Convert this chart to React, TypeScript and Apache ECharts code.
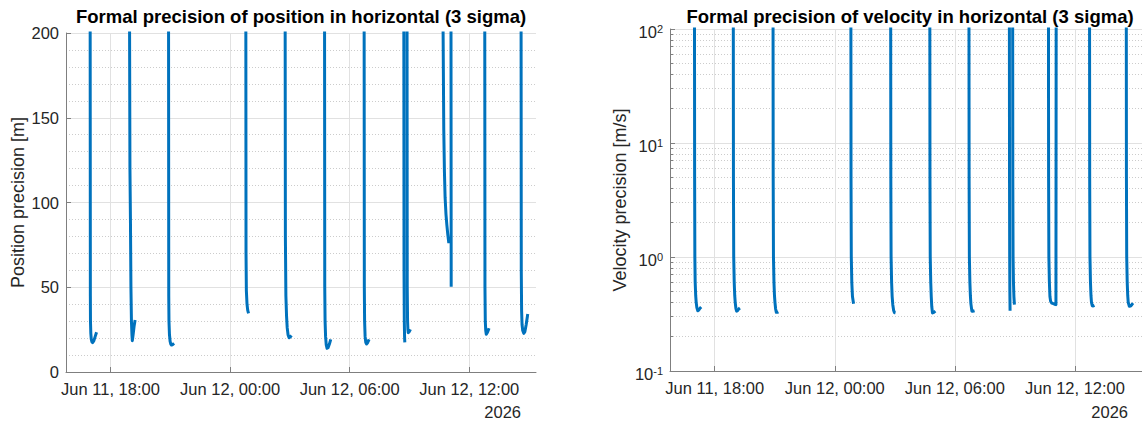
import React, { useEffect, useRef } from "react";
import * as echarts from "echarts";

// ---------- data ----------
const timeRange = ["06-11T15:46:00", "06-12T15:21:00"];
const timeTicks = ["06-11T18:00:00", "06-12T00:00:00", "06-12T06:00:00", "06-12T12:00:00"];
const yearLabel = "2026";
const positionTicks = [0, 50, 100, 150, 200];
const velocityTicks = [0.1, 1, 10, 100];

const positionTimes: string[] = [
  "06-11T16:58:40", "06-11T16:59:20", "06-11T16:59:40", "06-11T17:00:40", "06-11T17:02:00", "06-11T17:04:00", "06-11T17:06:00", "06-11T17:10:00", "06-11T17:14:00", "06-11T17:18:00", "06-11T17:40:00",
  "06-11T18:57:00", "06-11T18:58:30", "06-11T19:00:00", "06-11T19:01:30", "06-11T19:03:00", "06-11T19:04:30", "06-11T19:05:40", "06-11T19:08:00", "06-11T19:11:00", "06-11T19:14:00", "06-11T19:40:00",
  "06-11T20:54:40", "06-11T20:55:20", "06-11T20:56:00", "06-11T20:57:30", "06-11T20:59:30", "06-11T21:01:30", "06-11T21:03:40", "06-11T21:07:00", "06-11T21:11:30", "06-11T21:40:00",
  "06-12T00:47:20", "06-12T00:48:00", "06-12T00:49:00", "06-12T00:51:00", "06-12T00:53:00", "06-12T00:55:30", "06-12T01:20:00",
  "06-12T02:45:40", "06-12T02:46:30", "06-12T02:48:00", "06-12T02:50:00", "06-12T02:52:00", "06-12T02:54:30", "06-12T02:57:40", "06-12T03:01:00", "06-12T03:05:00", "06-12T03:30:00",
  "06-12T04:44:20", "06-12T04:45:00", "06-12T04:46:00", "06-12T04:47:30", "06-12T04:49:30", "06-12T04:52:00", "06-12T04:55:00", "06-12T04:59:00", "06-12T05:03:00", "06-12T05:30:00",
  "06-12T06:43:30", "06-12T06:44:10", "06-12T06:45:00", "06-12T06:46:30", "06-12T06:48:30", "06-12T06:50:40", "06-12T06:54:00", "06-12T06:58:30", "06-12T07:30:00",
  "06-12T08:43:00", "06-12T08:43:40", "06-12T08:44:30", "06-12T08:45:20", "06-12T08:46:00", "06-12T08:49:00",
  "06-12T08:52:40", "06-12T08:53:20", "06-12T08:54:20", "06-12T08:55:20", "06-12T08:56:20", "06-12T08:59:30", "06-12T09:03:00", "06-12T09:40:00",
  "06-12T10:40:30", "06-12T10:41:20", "06-12T10:43:20", "06-12T10:45:20", "06-12T10:47:20", "06-12T10:50:00", "06-12T10:52:30", "06-12T10:55:30", "06-12T10:58:30", "06-12T11:02:00",
  "06-12T11:05:00", "06-12T11:05:40", "06-12T11:40:00",
  "06-12T12:46:40", "06-12T12:47:20", "06-12T12:48:20", "06-12T12:49:40", "06-12T12:51:20", "06-12T12:55:00", "06-12T12:59:40", "06-12T13:30:00",
  "06-12T14:36:00", "06-12T14:36:40", "06-12T14:37:40", "06-12T14:39:00", "06-12T14:41:00", "06-12T14:44:10", "06-12T14:47:30", "06-12T14:51:30", "06-12T14:56:10",
];
const positionValues: (number | null)[] = [
  230, 45, 30, 23, 19.5, 17.8, 17.3, 18.5, 21, 23.4, null,
  230, 120, 90, 50, 30, 22, 18.5, 22, 27, 30.7, null,
  230, 45, 30, 22, 18, 16.5, 15.9, 16.2, 16.9, null,
  230, 70, 48, 40, 36.5, 34.6, null,
  230, 80, 45, 33, 26, 22, 20.2, 20.6, 21.5, null,
  230, 50, 30, 21, 16, 14, 14.3, 16.5, 19.3, null,
  230, 50, 30, 21, 17.5, 16.5, 17.3, 19.3, null,
  230, 60, 30, 21, 17.5, null,
  230, 50, 30, 25, 23.2, 23.8, 25.2, null,
  240, 200, 143, 118, 103, 93, 87, 81, 76, null,
  230, 50.3, null,
  230, 50, 30, 24.5, 22.3, 23.5, 25.8, null,
  230, 60, 36, 28, 24.5, 22.8, 23.8, 28, 34.2,
];

const velocityTimes: string[] = [
  "06-11T16:59:20", "06-11T16:59:50", "06-11T17:00:30", "06-11T17:01:30", "06-11T17:03:00", "06-11T17:04:30", "06-11T17:06:30", "06-11T17:09:20", "06-11T17:12:30", "06-11T17:16:00", "06-11T17:19:30", "06-11T17:40:00",
  "06-11T18:55:40", "06-11T18:56:10", "06-11T18:57:00", "06-11T18:58:30", "06-11T19:00:00", "06-11T19:01:30", "06-11T19:03:30", "06-11T19:05:40", "06-11T19:09:00", "06-11T19:12:00", "06-11T19:15:40", "06-11T19:40:00",
  "06-11T20:54:50", "06-11T20:55:20", "06-11T20:56:10", "06-11T20:57:40", "06-11T20:59:10", "06-11T21:00:40", "06-11T21:02:40", "06-11T21:04:50", "06-11T21:08:00", "06-11T21:10:50", "06-11T21:40:00",
  "06-12T00:48:10", "06-12T00:48:40", "06-12T00:49:30", "06-12T00:51:00", "06-12T00:53:00", "06-12T00:56:20", "06-12T01:20:00",
  "06-12T02:47:30", "06-12T02:48:00", "06-12T02:48:50", "06-12T02:50:20", "06-12T02:52:00", "06-12T02:54:00", "06-12T02:56:30", "06-12T02:59:00", "06-12T03:02:00", "06-12T03:30:00",
  "06-12T04:44:50", "06-12T04:45:20", "06-12T04:46:10", "06-12T04:47:40", "06-12T04:49:10", "06-12T04:50:40", "06-12T04:52:50", "06-12T04:57:00", "06-12T05:01:40", "06-12T05:30:00",
  "06-12T06:42:10", "06-12T06:42:40", "06-12T06:43:30", "06-12T06:45:00", "06-12T06:46:30", "06-12T06:48:00", "06-12T06:51:00", "06-12T06:55:00", "06-12T06:59:00", "06-12T07:30:00",
  "06-12T08:43:20", "06-12T08:43:50", "06-12T08:44:20", "06-12T08:44:50", "06-12T08:45:30", "06-12T08:49:00",
  "06-12T08:53:10", "06-12T08:53:40", "06-12T08:54:30", "06-12T08:55:40", "06-12T08:57:00", "06-12T08:58:30", "06-12T08:59:30", "06-12T09:40:00",
  "06-12T10:40:30", "06-12T10:41:00", "06-12T10:41:50", "06-12T10:43:20", "06-12T10:45:00", "06-12T10:47:00", "06-12T10:50:20", "06-12T10:55:00", "06-12T10:59:00", "06-12T11:03:00", "06-12T11:03:50", "06-12T11:40:00",
  "06-12T12:43:40", "06-12T12:44:10", "06-12T12:45:00", "06-12T12:46:30", "06-12T12:48:00", "06-12T12:49:30", "06-12T12:51:50", "06-12T12:55:00", "06-12T12:58:30", "06-12T13:30:00",
  "06-12T14:33:50", "06-12T14:34:20", "06-12T14:35:10", "06-12T14:36:40", "06-12T14:38:10", "06-12T14:39:40", "06-12T14:43:00", "06-12T14:47:00", "06-12T14:50:30", "06-12T14:54:00",
];
const velocityValues: (number | null)[] = [
  300, 5, 1.0, 0.6, 0.46, 0.4, 0.36, 0.338, 0.343, 0.355, 0.364, null,
  300, 5, 1.0, 0.6, 0.46, 0.4, 0.355, 0.335, 0.34, 0.35, 0.357, null,
  300, 5, 1.0, 0.6, 0.46, 0.4, 0.35, 0.327, 0.327, 0.33, null,
  300, 5, 1.0, 0.6, 0.45, 0.389, null,
  300, 5, 1.0, 0.6, 0.45, 0.38, 0.34, 0.325, 0.323, null,
  300, 5, 1.0, 0.6, 0.45, 0.37, 0.323, 0.327, 0.335, null,
  300, 5, 1.0, 0.6, 0.46, 0.39, 0.335, 0.335, 0.338, null,
  300, 5, 1.0, 0.5, 0.338, null,
  300, 5, 1.0, 0.6, 0.45, 0.382, 0.378, null,
  300, 5, 1.0, 0.6, 0.45, 0.41, 0.394, 0.39, 0.385, 0.382, 300, null,
  300, 5, 1.0, 0.6, 0.46, 0.4, 0.374, 0.372, 0.376, null,
  300, 5, 1.0, 0.6, 0.46, 0.4, 0.37, 0.372, 0.382, 0.394,
];

// ---------- helpers ----------
const toMs = (s: string) => Date.parse(`2026-${s}Z`);
const MONTHS = ["Jan", "Feb", "Mar", "Apr", "May", "Jun", "Jul", "Aug", "Sep", "Oct", "Nov", "Dec"];
const pad = (n: number) => (n < 10 ? "0" + n : "" + n);
const fmtTime = (v: number) => {
  const d = new Date(v);
  return `${MONTHS[d.getUTCMonth()]} ${d.getUTCDate()}, ${pad(d.getUTCHours())}:${pad(d.getUTCMinutes())}`;
};

const FONT = '"Liberation Sans", Arial, Helvetica, sans-serif';
const TEXT = "#262626";
const AXIS = "#7f7f7f";
const GRID = "#e1e1e1";
const MINOR = "#cccccc";
const LINE = "#0072BD";
const TICK_FS = 16.5;
const LABEL_FS = 18;
const TITLE_FS = 18.5;

export default function App() {
  const ref = useRef<HTMLDivElement>(null);

  useEffect(() => {
    document.body.style.margin = "0";
    if (!ref.current) return;
    const chart = echarts.init(ref.current, null, { renderer: "svg" });

    const tickMs = timeTicks.map(toMs);
    const xMin = toMs(timeRange[0]);
    const xMax = toMs(timeRange[1]);

    const posData = positionTimes.map((t, i) => [toMs(t), positionValues[i]]);
    const velData = velocityTimes.map((t, i) => [toMs(t), velocityValues[i]]);

    const xAxis = (gridIndex: number) => ({
      type: "value",
      gridIndex,
      min: xMin,
      max: xMax,
      axisLine: { show: true, lineStyle: { color: AXIS, width: 1 } },
      axisTick: { show: true, inside: true, length: 5, lineStyle: { color: AXIS }, customValues: tickMs },
      axisLabel: {
        customValues: tickMs,
        formatter: (v: number) => fmtTime(v),
        color: TEXT,
        fontSize: TICK_FS,
        fontFamily: FONT,
        margin: 8,
        lineHeight: 18,
      },
      splitLine: { show: true, lineStyle: { color: GRID, width: 1 } },
    });

    const option: any = {
      animation: false,
      textStyle: { fontFamily: FONT },
      title: [
        {
          text: "Formal precision of position in horizontal (3 sigma)",
          left: 301,
          top: 7,
          textAlign: "center",
          padding: 0,
          textStyle: { fontSize: TITLE_FS, fontWeight: "bold", color: "#000", fontFamily: FONT },
        },
        {
          text: "Formal precision of velocity in horizontal (3 sigma)",
          left: 910,
          top: 7,
          textAlign: "center",
          padding: 0,
          textStyle: { fontSize: TITLE_FS, fontWeight: "bold", color: "#000", fontFamily: FONT },
        },
      ],
      grid: [
        { left: 66, top: 33, width: 470, height: 339 },
        { left: 670, top: 29, width: 475, height: 342 },
      ],
      xAxis: [xAxis(0), xAxis(1)],
      yAxis: [
        {
          type: "value",
          gridIndex: 0,
          min: positionTicks[0],
          max: positionTicks[positionTicks.length - 1],
          interval: positionTicks[1] - positionTicks[0],
          name: "Position precision [m]",
          nameLocation: "middle",
          nameGap: 39,
          nameTextStyle: { fontSize: LABEL_FS, color: TEXT, fontFamily: FONT },
          axisLine: { show: true, lineStyle: { color: AXIS, width: 1 } },
          axisTick: { show: true, inside: true, length: 5, lineStyle: { color: AXIS } },
          axisLabel: { color: TEXT, fontSize: TICK_FS, fontFamily: FONT, margin: 7 },
          splitLine: { show: true, lineStyle: { color: GRID, width: 1 } },
          minorTick: { show: false, splitNumber: 5 },
          minorSplitLine: { show: true, lineStyle: { color: MINOR, width: 1, type: [1, 2] } },
        },
        {
          type: "log",
          gridIndex: 1,
          logBase: 10,
          min: velocityTicks[0],
          max: velocityTicks[velocityTicks.length - 1],
          name: "Velocity precision [m/s]",
          nameLocation: "middle",
          nameGap: 41,
          nameTextStyle: { fontSize: LABEL_FS, color: TEXT, fontFamily: FONT },
          axisLine: { show: true, lineStyle: { color: AXIS, width: 1 } },
          axisTick: { show: true, inside: true, length: 5, lineStyle: { color: AXIS } },
          minorTick: { show: true, splitNumber: 9, length: 3, lineStyle: { color: AXIS } },
          minorSplitLine: { show: true, lineStyle: { color: MINOR, width: 1, type: [1, 2] } },
          axisLabel: {
            margin: 7,
            padding: [6, 0, 0, 0],
            fontFamily: FONT,
            formatter: (v: number) => `{b|10}{s|${Math.round(Math.log10(v))}}`,
            rich: {
              b: { fontSize: TICK_FS, lineHeight: 18, color: TEXT, fontFamily: FONT },
              s: { fontSize: 11, lineHeight: 9, verticalAlign: "top", color: TEXT, fontFamily: FONT },
            },
          },
          splitLine: { show: true, lineStyle: { color: GRID, width: 1 } },
        },
      ],
      graphic: [
        {
          type: "text",
          x: 521,
          y: 412,
          style: { text: yearLabel, fontSize: TICK_FS, fontFamily: FONT, fill: TEXT, align: "right", verticalAlign: "middle" },
        },
        {
          type: "text",
          x: 1128,
          y: 412,
          style: { text: yearLabel, fontSize: TICK_FS, fontFamily: FONT, fill: TEXT, align: "right", verticalAlign: "middle" },
        },
      ],
      series: [
        {
          type: "line",
          xAxisIndex: 0,
          yAxisIndex: 0,
          data: posData,
          showSymbol: false,
          symbol: "none",
          connectNulls: false,
          clip: true,
          lineStyle: { color: LINE, width: 3, join: "round", cap: "butt" },
        },
        {
          type: "line",
          xAxisIndex: 1,
          yAxisIndex: 1,
          data: velData,
          showSymbol: false,
          symbol: "none",
          connectNulls: false,
          clip: true,
          lineStyle: { color: LINE, width: 3, join: "round", cap: "butt" },
        },
      ],
    };

    chart.setOption(option);
    return () => chart.dispose();
  }, []);

  return <div ref={ref} style={{ width: 1142, height: 421 }} />;
}
